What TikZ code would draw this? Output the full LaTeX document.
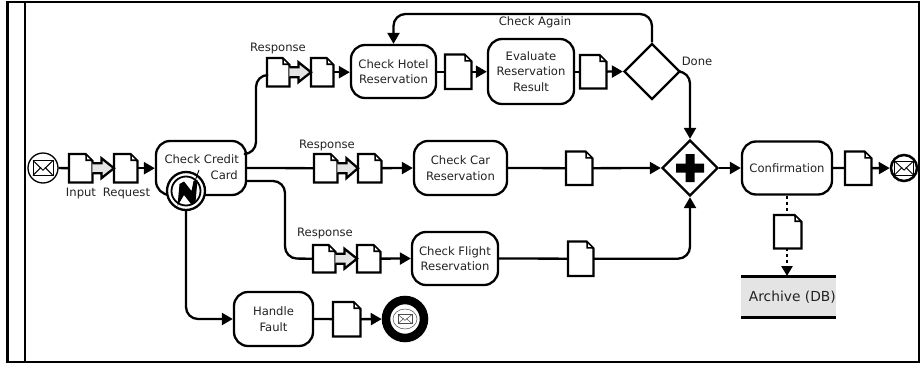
\documentclass[tikz,border=0pt]{standalone}
\usepackage{fontspec}
\setmainfont{DejaVu Sans}
\usetikzlibrary{arrows.meta,calc,shapes.geometric}
\definecolor{lightfill}{HTML}{E4E4E4}
\definecolor{txtc}{HTML}{222222}
\tikzset{
  x=1pt,y=-1pt,
  every node/.style={font=\fontsize{11.6}{15.5}\selectfont,text=txtc,inner sep=0pt,align=center},
  wire/.style={line width=2.3pt},
  flow/.style={wire,-{Triangle[length=11pt,width=12pt]},rounded corners=12pt},
  plain/.style={wire,rounded corners=12pt},
  task/.style={draw=black,line width=2.3pt,fill=white,rounded corners=14pt,minimum width=#1},
  gate/.style={draw=black,line width=2.3pt,fill=white,diamond,minimum width=56pt,minimum height=56pt,aspect=1},
  evt/.style={circle,draw=black,fill=white},
}
\newcommand{\docnode}[5]{% name, left, top, width, height
  \node[rectangle,minimum width=#4pt,minimum height=#5pt,anchor=north west] (#1) at (#2,#3) {};
  \draw[line width=2.3pt,line join=miter,fill=white]
    (#1.north west) -- ($(#1.north east)+(-7,0)$) -- ($(#1.north east)+(0,7)$) -- (#1.south east) -- (#1.south west) -- cycle;
  \fill ($(#1.north east)+(-7,0)$) -- ($(#1.north east)+(0,7)$) -- ($(#1.north east)+(-7,7)$) -- cycle;
  \fill[white] ($(#1.north east)+(-5.4,2.4)$) -- ($(#1.north east)+(-2.4,5.4)$) -- ($(#1.north east)+(-5.4,5.4)$) -- cycle;
}
\newcommand{\blockarrow}[2]{%
  \draw[line width=2.3pt,fill=lightfill,line join=miter]
    ($(#1.east)+(0,-5)$) -- ($(#1.east)+(9,-5)$) -- ($(#1.east)+(9,-10)$) -- (#2.west)
    -- ($(#1.east)+(9,10)$) -- ($(#1.east)+(9,5)$) -- ($(#1.east)+(0,5)$);
}
\newcommand{\envelope}[4]{% node, half width, half height, style
  \draw[#4] ($(#1)+(-#2,-#3)$) rectangle ($(#1)+(#2,#3)$);
  \draw[#4] ($(#1)+(-#2,-#3)$) -- ($(#1)+(0,0.3*#3)$) -- ($(#1)+(#2,-#3)$);
  \draw[#4] ($(#1)+(-#2,#3)$) -- ($(#1)+(-0.2*#2,-0.1*#3)$);
  \draw[#4] ($(#1)+(#2,#3)$) -- ($(#1)+(0.2*#2,-0.1*#3)$);
}
\begin{document}
\begin{tikzpicture}
\useasboundingbox (0,0) rectangle (920,364);
% frame
\coordinate (ftl) at (7.5,2);
\coordinate (fbr) at (919,362);
\draw[line width=2.5pt] (ftl) rectangle (fbr);
\draw[line width=2.5pt] (25,2) -- (25,362);

% start event
\node[evt,line width=1.3pt,minimum size=30pt] (start) at (43,168) {};
\envelope{start}{10}{7.5}{line width=1pt}

% docs
\docnode{input}{69}{154}{23}{28}
\docnode{request}{114}{154}{23}{28}
\docnode{resp1a}{267}{58}{22}{28}
\docnode{resp1b}{311}{58}{22}{28}
\docnode{hoteldoc}{445}{54.5}{26}{34}
\docnode{evaldoc}{580}{55}{26}{33}
\docnode{resp2a}{314}{154}{23}{28}
\docnode{resp2b}{358}{154}{23}{28}
\docnode{cardoc}{566}{151.5}{26}{33}
\docnode{resp3a}{313}{245}{22}{27}
\docnode{resp3b}{357}{245}{23}{27}
\docnode{flightdoc}{568}{241.5}{25}{34}
\docnode{confdoc}{845}{151.5}{26}{33}
\docnode{archdoc}{774}{215}{27}{33}
\docnode{faultdoc}{333}{302}{27}{34}

% tasks
\node[task=90pt,minimum height=54pt] (credit) at (201,168) {};
\node[task=85pt,minimum height=53pt] (hotel) at (393.5,71.5) {Check Hotel\\Reservation};
\node[task=86pt,minimum height=65pt] (eval) at (531,71.5) {Evaluate\\Reservation\\Result};
\node[task=93pt,minimum height=54pt] (car) at (460.5,168) {Check Car\\Reservation};
\node[task=86pt,minimum height=53pt] (flight) at (455,258.5) {Check Flight\\Reservation};
\node[task=90pt,minimum height=53pt] (conf) at (787,168) {Confirmation};
\node[task=79pt,minimum height=54pt] (fault) at (273.5,319) {Handle\\Fault};
\node[anchor=east] (creditl1) at (239,159) {Check Credit};
\node[anchor=east] (creditl2) at (238,175) {Card};

% gateways
\node[gate] (check) at (652,71.5) {};
\node[gate] (join) at (690,168) {};
\fill ($(join)+(-14,-4.5)$) -- ($(join)+(-4.5,-4.5)$) -- ($(join)+(-4.5,-14)$) -- ($(join)+(4.5,-14)$) -- ($(join)+(4.5,-4.5)$) -- ($(join)+(14,-4.5)$) -- ($(join)+(14,4.5)$) -- ($(join)+(4.5,4.5)$) -- ($(join)+(4.5,14)$) -- ($(join)+(-4.5,14)$) -- ($(join)+(-4.5,4.5)$) -- ($(join)+(-14,4.5)$) -- cycle;

% end events
\node[evt,line width=2.5pt,minimum size=26pt] (endok) at (904,168) {};
\envelope{endok}{9.5}{7}{line width=0.9pt}
\node[evt,line width=8.5pt,minimum size=38pt] (endfault) at (405,319) {};
\envelope{endfault}{7}{4.5}{line width=0.5pt,draw=black!70}
\draw[line width=0.5pt,draw=black!70] (endfault) ellipse (12 and 10);

% archive
\node[rectangle,fill=lightfill,minimum width=95pt,minimum height=41pt,anchor=north west] (arch) at (741,276) {};
\draw[line width=3pt] (arch.north west) -- (arch.north east);
\draw[line width=3pt] (arch.south west) -- (arch.south east);
\node[anchor=east,font=\fontsize{13.8}{16}\selectfont] (archl) at (836,297) {Archive (DB)};

% connectors
\draw[wire] (start) -- (input);
\blockarrow{input}{request}
\draw[flow] (request) -- (credit.west |- request);
\draw[plain] ($(credit.east)+(0,-14)$) -- (256,154) -- (256,75) -- (resp1a.west |- 0,75);
\blockarrow{resp1a}{resp1b}
\draw[flow] (resp1b) -- (hotel.west |- resp1b);
\draw[wire] (hotel.east |- hoteldoc) -- (hoteldoc);
\draw[flow] (hoteldoc) -- (eval.west |- hoteldoc);
\draw[wire] (eval.east |- evaldoc) -- (evaldoc);
\draw[flow] (evaldoc) -- (check.west);
\draw[flow] (check.north) |- (393.5,14) -- (hotel.north);
\draw[flow] (check.east) -| (join.north);
\draw[wire] (credit.east) -- (resp2a);
\blockarrow{resp2a}{resp2b}
\draw[flow] (resp2b) -- (car.west);
\draw[wire] (car.east) -- (cardoc);
\draw[flow] (cardoc) -- (join.west);
\draw[plain] ($(credit.east)+(0,13)$) -| (285,258.5) -- (resp3a.west);
\blockarrow{resp3a}{resp3b}
\draw[flow] (resp3b) -- (flight.west);
\draw[wire] (flight.east) -- (flightdoc);
\draw[flow] (flightdoc.east) -| (join.south);
\draw[flow] (join.east) -- (conf.west);
\draw[wire] (conf.east) -- (confdoc);
\draw[flow] (confdoc) -- (endok);
\draw[line width=2.5pt,dash pattern=on 3pt off 3pt] (conf.south) -- (archdoc.north -| conf.south);
\draw[line width=2.5pt,dash pattern=on 3pt off 3pt,-{Triangle[length=10pt,width=11pt]}] (archdoc.south -| conf.south) -- (arch.north -| conf.south);
\draw[wire] (fault.east) -- (faultdoc);
\draw[flow] (faultdoc) -- (endfault);

% interrupt event
\node[evt,line width=2.3pt,minimum size=38pt] (intr) at (186,191) {};
\draw[line width=1.8pt] (intr) circle (14.5);
\draw[flow] (intr.south) |- (fault.west);
\fill (177.5,206) -- (179.5,184) -- (184,181.5) -- (191.5,191) -- (193.5,181) -- (197.5,180) -- (195.5,202) -- (191,204) -- (184,195) -- cycle;
\draw[line width=0.9pt] (195,181) -- (199,170);

% labels
\node (linput) at (81,193) {Input};
\node (lreq) at (126.5,193) {Request};
\node (lr1) at (278,48) {Response};
\node (lr2) at (327,145) {Response};
\node (lr3) at (325,233) {Response};
\node (lagain) at (535,22) {Check Again};
\node (ldone) at (697,61) {Done};
\end{tikzpicture}
\end{document}
